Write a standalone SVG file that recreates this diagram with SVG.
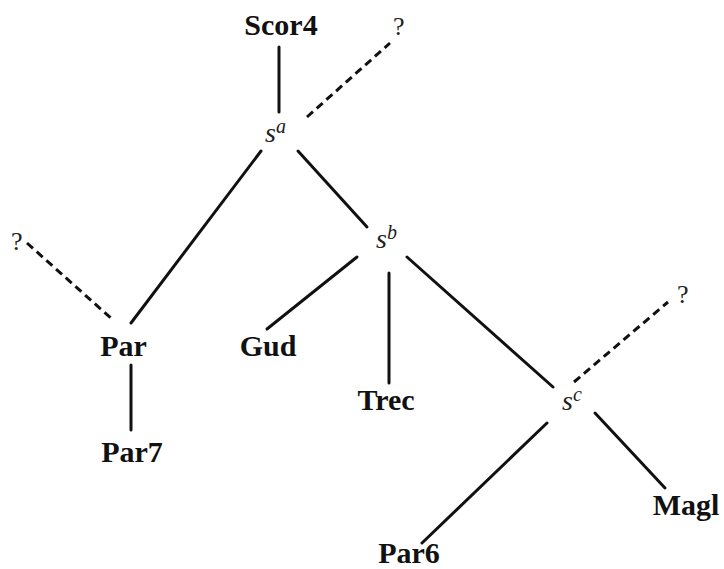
<svg xmlns="http://www.w3.org/2000/svg" width="724" height="569" viewBox="0 0 724 569">
<style>
.lbl{font-family:"Liberation Serif","Times New Roman",serif;font-weight:bold;font-size:30px;fill:#111;text-anchor:middle}
.q{font-family:"Liberation Serif","Times New Roman",serif;font-size:26px;fill:#222}
.s{font-family:"Liberation Serif","Times New Roman",serif;font-style:italic;font-size:28px;fill:#222}
.sup{font-size:20px}
.e{stroke:#111;stroke-width:3;fill:none;stroke-linecap:round}
.d{stroke-dasharray:8 5;stroke-linecap:butt}
</style>
<rect width="724" height="569" fill="#fff"/>
<g id="connectors">
<line class="e" x1="279" y1="47" x2="279" y2="112"/>
<line class="e d" x1="307" y1="117" x2="390" y2="43"/>
<line class="e" x1="261" y1="151" x2="131" y2="323"/>
<line class="e" x1="298" y1="151" x2="367" y2="227"/>
<line class="e d" x1="27" y1="243" x2="113" y2="320"/>
<line class="e" x1="131" y1="365" x2="131" y2="430"/>
<line class="e" x1="357" y1="257" x2="267" y2="329"/>
<line class="e" x1="389" y1="273" x2="389" y2="383"/>
<line class="e" x1="407" y1="257" x2="553" y2="387"/>
<line class="e d" x1="574" y1="382" x2="668" y2="302"/>
<line class="e" x1="595" y1="413" x2="665" y2="488"/>
<line class="e" x1="547" y1="423" x2="422" y2="543"/>
</g>
<g id="Scor4"><text class="lbl" x="281" y="35">Scor4</text></g>
<g id="q1"><text class="q" x="393" y="35">?</text></g>
<g id="sa"><text class="s" x="265" y="142">s<tspan class="sup" dy="-9">a</tspan></text></g>
<g id="q2"><text class="q" x="11" y="250">?</text></g>
<g id="sb"><text class="s" x="376" y="248">s<tspan class="sup" dy="-9">b</tspan></text></g>
<g id="Par"><text class="lbl" x="123.5" y="356">Par</text></g>
<g id="Gud"><text class="lbl" x="268" y="356">Gud</text></g>
<g id="Trec"><text class="lbl" x="386" y="410">Trec</text></g>
<g id="Par7"><text class="lbl" x="132" y="462">Par7</text></g>
<g id="sc"><text class="s" x="562" y="410">s<tspan class="sup" dy="-9">c</tspan></text></g>
<g id="q3"><text class="q" x="677" y="303">?</text></g>
<g id="Magl"><text class="lbl" x="686" y="515">Magl</text></g>
<g id="Par6"><text class="lbl" x="409" y="563">Par6</text></g>
</svg>
